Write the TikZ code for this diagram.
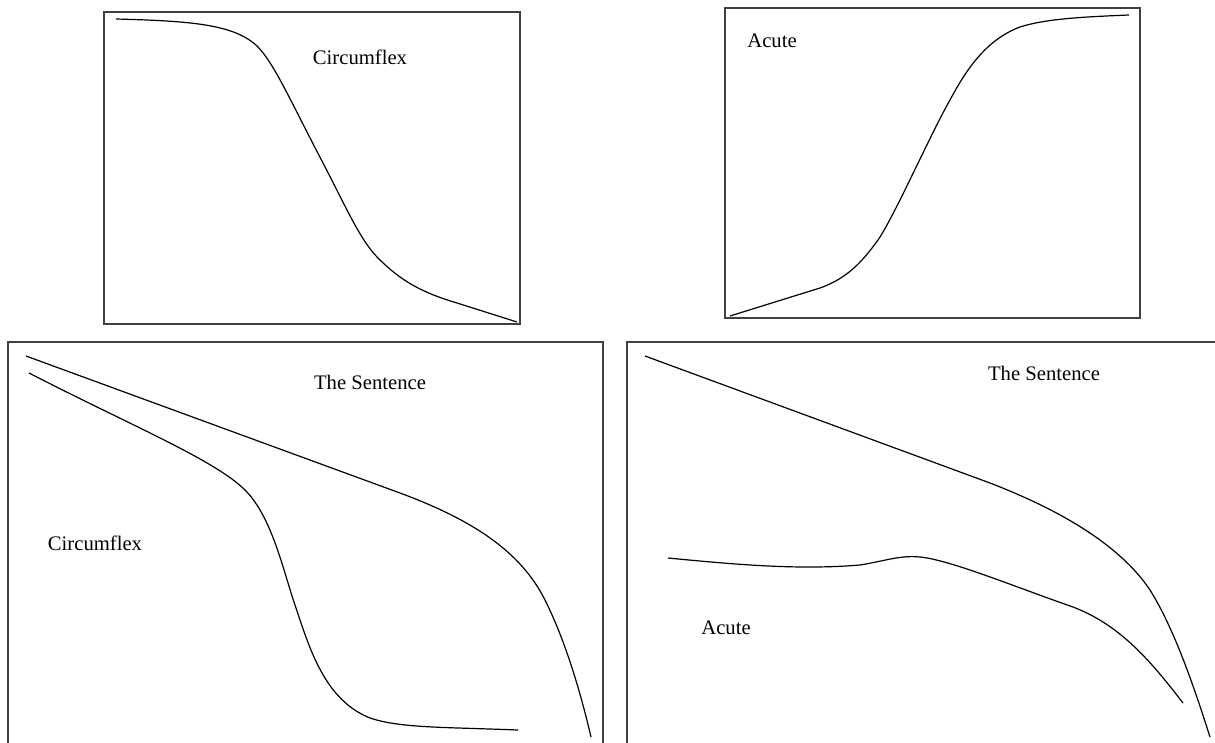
\documentclass[tikz,border=0pt]{standalone}
\usepackage{fontspec}
\setmainfont{Liberation Serif}
\begin{document}
\begin{tikzpicture}[
  x=0.75pt, y=-0.75pt,
  font=\fontsize{15.5}{18}\selectfont,
  frame/.style={draw=black!75, line width=1.1pt},
  contour/.style={line width=0.9pt},
  lbl/.style={inner sep=0pt}
]
\useasboundingbox (0,0) rectangle (1215,743);
\clip (0,0) rectangle (1215,743);

% frames
\draw[frame] (104,12) rectangle (520,324);
\draw[frame] (725,8) rectangle (1140,318);
\draw[frame] (8,342) rectangle (603,760);
\draw[frame] (627,342) rectangle (1230,760);

% top row
\node[lbl] (circTop) at (360,57) {Circumflex};
\draw[contour] (116,19) .. controls (190,21) and (235,24) .. (258,47)
  .. controls (275,65) and (290,100) .. (323,163)
  .. controls (345,205) and (360,240) .. (378,258)
  .. controls (400,280) and (420,292) .. (457,303) -- (517,322);

\node[lbl] (acuteTop) at (772,41) {Acute};
\draw[contour] (730,316) -- (820,288) .. controls (845,279) and (860,265) .. (878,240)
  .. controls (895,215) and (930,135) .. (950,100)
  .. controls (965,72) and (985,40) .. (1020,27)
  .. controls (1045,19) and (1080,17) .. (1129,15);

% bottom row
\node[lbl] (sentL) at (370,382) {The Sentence};
\node[lbl] (circBot) at (95,543) {Circumflex};
\draw[contour] (26,356) -- (400,493) .. controls (470,519) and (520,550) .. (545,600)
  .. controls (565,640) and (580,690) .. (591,737);
\draw[contour] (29,373) .. controls (130,425) and (215,460) .. (245,490)
  .. controls (272,517) and (283,570) .. (295,605)
  .. controls (310,650) and (325,700) .. (370,718)
  .. controls (400,728) and (440,727) .. (518,730);

\node[lbl] (sentR) at (1044,373) {The Sentence};
\node[lbl] (acuteBot) at (726,628) {Acute};
\draw[contour] (645,356) -- (990,483) .. controls (1060,510) and (1120,545) .. (1150,590)
  .. controls (1175,630) and (1195,690) .. (1210,737);
\draw[contour] (668,558) .. controls (740,565) and (800,570) .. (860,565)
  .. controls (885,561) and (900,555) .. (920,557)
  .. controls (950,560) and (1010,585) .. (1073,607)
  .. controls (1120,625) and (1150,660) .. (1183,703);
\end{tikzpicture}
\end{document}
